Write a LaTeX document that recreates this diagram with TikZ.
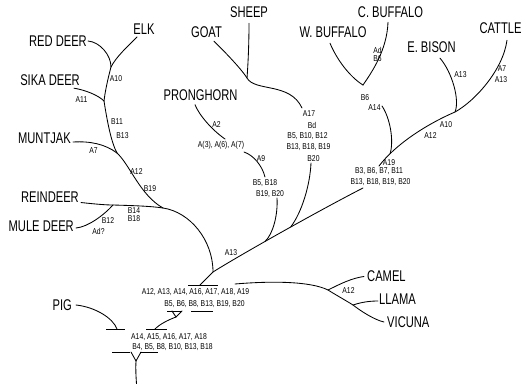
\documentclass[tikz,border=0pt]{standalone}
\usepackage{fontspec}
\newfontfamily\biglbl[FakeStretch=0.72]{Liberation Sans}
\newfontfamily\smllbl[FakeStretch=0.8]{Liberation Sans}
\usetikzlibrary{calc}
\tikzset{
  taxon/.style={inner sep=0pt, font=\biglbl\fontsize{15.5}{16}\selectfont},
  charlbl/.style={inner sep=0pt, font=\smllbl\fontsize{8.5}{9}\selectfont},
  edgeline/.style={line width=0.85pt, line cap=round},
  tickbar/.style={line width=0.85pt}
}
\begin{document}
\begin{tikzpicture}[x=1pt,y=-1pt]
\path[fill=white] (0,0) rectangle (527,383);
\useasboundingbox (0,0) rectangle (527,383);

% taxa
\node[taxon, anchor=east] (reddeer) at (87,41) {RED DEER};
\node[taxon] (elk) at (144,29) {ELK};
\node[taxon, anchor=east] (sika) at (80,80.5) {SIKA DEER};
\node[taxon, anchor=east] (muntjak) at (71,138.5) {MUNTJAK};
\node[taxon, anchor=east] (reindeer) at (79,197) {REINDEER};
\node[taxon, anchor=east] (muledeer) at (74,226.5) {MULE DEER};
\node[taxon, anchor=east] (pig) at (72,305) {PIG};
\node[taxon] (pronghorn) at (200.5,95) {PRONGHORN};
\node[taxon] (goat) at (206.5,32.5) {GOAT};
\node[taxon] (sheep) at (249,12.5) {SHEEP};
\node[taxon] (wbuf) at (333,32.5) {W. BUFFALO};
\node[taxon] (cbuf) at (390.5,12.5) {C. BUFFALO};
\node[taxon] (ebison) at (431.5,47.5) {E. BISON};
\node[taxon] (cattle) at (500.5,28.5) {CATTLE};
\node[taxon, anchor=west] (camel) at (367,276.5) {CAMEL};
\node[taxon, anchor=west] (llama) at (379,299) {LLAMA};
\node[taxon, anchor=west] (vicuna) at (387,322) {VICUNA};

% character labels
\node[charlbl] (l1) at (116,79) {A10};
\node[charlbl] (l2) at (81.5,100) {A11};
\node[charlbl] (l3) at (117,122) {B11};
\node[charlbl] (l4) at (122.5,135.5) {B13};
\node[charlbl] (l5) at (93.5,150.5) {A7};
\node[charlbl] (l6) at (136.5,172) {A12};
\node[charlbl] (l7) at (150,188.5) {B19};
\node[charlbl] (l8) at (134,210.8) {B14};
\node[charlbl] (l9) at (134,218.2) {B18};
\node[charlbl] (l10) at (108,221) {B12};
\node[charlbl] (l11) at (98.5,231) {Ad?};
\node[charlbl] (l12) at (216.5,125) {A2};
\node[charlbl] (l13) at (221,145.5) {A(3), A(6), A(7)};
\node[charlbl] (l14) at (261,158.5) {A9};
\node[charlbl] (l15) at (265,183.5) {B5, B18};
\node[charlbl] (l16) at (270,194) {B19, B20};
\node[charlbl] (l17) at (309,113.5) {A17};
\node[charlbl] (l18) at (312,125.5) {Bd};
\node[charlbl] (l19) at (307.5,136.5) {B5, B10, B12};
\node[charlbl] (l20) at (308.5,147.5) {B13, B18, B19};
\node[charlbl] (l21) at (313.5,159) {B20};
\node[charlbl] (l22) at (377.5,50) {Ad};
\node[charlbl] (l23) at (377.5,58.5) {B6};
\node[charlbl] (l24) at (365,98) {B6};
\node[charlbl] (l25) at (374.5,108) {A14};
\node[charlbl] (l26) at (460.5,75) {A13};
\node[charlbl] (l27) at (502,69) {A7};
\node[charlbl] (l28) at (501,80) {A13};
\node[charlbl] (l29) at (446,125) {A10};
\node[charlbl] (l30) at (430.5,136) {A12};
\node[charlbl] (l31) at (389,162.5) {A19};
\node[charlbl] (l32) at (379,171.5) {B3, B6, B7, B11};
\node[charlbl] (l33) at (380.5,182.5) {B13, B18, B19, B20};
\node[charlbl] (l34) at (231,252.5) {A13};
\node[charlbl] (l35) at (195.5,292.5) {A12, A13, A14, A16, A17, A18, A19};
\node[charlbl] (l36) at (204.5,304.5) {B5, B6, B8, B13, B19, B20};
\node[charlbl] (l37) at (348.5,291) {A12};
\node[charlbl] (l38) at (169,337.5) {A14, A15, A16, A17, A18};
\node[charlbl] (l39) at (172.5,347.5) {B4, B5, B8, B10, B13, B18};

% junctions
\coordinate (cd1) at (111,67);
\coordinate (cd2) at (104,101);
\coordinate (cd3) at (117,153);
\coordinate (cd5) at (113,205);
\coordinate (cd4) at (163,208);
\coordinate (cr) at (213,272);
\coordinate (rb) at (200,285);
\coordinate (gs) at (247,78);
\coordinate (goatend) at (302,108);
\coordinate (goatlow) at (311,163);
\coordinate (pr1) at (225,139);
\coordinate (pr2) at (244,152);
\coordinate (pr3) at (265,177);
\coordinate (pr4) at (277,198);
\coordinate (bj) at (363,85);
\coordinate (bf2) at (382,106);
\coordinate (bovend) at (363,188);
\coordinate (bt) at (379,166);
\coordinate (be) at (455,112);
\coordinate (cs) at (235,284);
\coordinate (cj1) at (328,290);
\coordinate (cj2) at (353,305);
\coordinate (midv) at (176,317);
\coordinate (mr) at (155,329);
\coordinate (pl) at (117,329);
\coordinate (rootv) at (136,361);
\coordinate (rootend) at (136.5,384);

% cervids
\draw[edgeline] ($(reddeer.east)+(1,0)$) .. controls (100,42) and (111,55) .. (cd1);
\draw[edgeline] ($(elk.south)+(-7,2.5)$) .. controls (128,46) and (116,57) .. (cd1);
\draw[edgeline] (cd1) .. controls (108,78) and (105,92) .. (cd2);
\draw[edgeline] ($(sika.south east)+(-6,2)$) .. controls (85,90) and (98,95) .. (cd2);
\draw[edgeline] (cd2) .. controls (107,120) and (111,142) .. (cd3);
\draw[edgeline] ($(muntjak.east)+(2,3.5)$) .. controls (90,141) and (105,144) .. (cd3);
\draw[edgeline] (cd3) .. controls (130,165) and (140,195) .. (cd4);
\draw[edgeline] ($(reindeer.south east)+(2,0)$) .. controls (95,204) and (105,205) .. (cd5)
   .. controls (130,205.5) and (150,206) .. (cd4) .. controls (190,212) and (213,240) .. (cr);
\draw[edgeline] ($(muledeer.east)+(2,1.5)$) .. controls (88,227) and (104,215) .. (cd5);

% ruminant stem
\draw[edgeline] (rb) -- (cr) .. controls (240,255) and (320,210) .. (bovend)
   coordinate[pos=0.4] (pj) coordinate[pos=0.55] (gj);

% goat / sheep
\draw[edgeline] ($(goat.south)+(7.5,3)$) .. controls (228,55) and (242,70) .. (gs)
   .. controls (255,92) and (290,82) .. (goatend);
\draw[edgeline] ($(sheep.south)+(0,5)$) .. controls (249,45) and (248,65) .. (gs);
\draw[edgeline] (goatlow) .. controls (310,185) and (302,212) .. (gj);

% pronghorn
\draw[edgeline] ($(pronghorn.south)+(-5.5,4)$) .. controls (199,115) and (212,130) .. (pr1);
\draw[edgeline] (pr2) .. controls (253,155) and (262,165) .. (pr3);
\draw[edgeline] (pr4) .. controls (278,215) and (273,234) .. (pj);

% bovines
\draw[edgeline] (bt) .. controls (395,145) and (425,125) .. (be) coordinate[pos=0.2] (bc)
   .. controls (475,101) and (503,70) .. ($(cattle.south)+(6.5,6)$);
\draw[edgeline] ($(ebison.south)+(8.5,5)$) .. controls (452,72) and (460,100) .. (be);
\draw[edgeline] ($(wbuf.south)+(-3,5)$) .. controls (337,60) and (350,77) .. (bj);
\draw[edgeline] ($(cbuf.south)+(-2.5,4)$) .. controls (387,50) and (372,72) .. (bj);
\draw[edgeline] (bf2) .. controls (390,118) and (394,140) .. (bc);

% camelids
\draw[edgeline] (cs) .. controls (270,281) and (310,281) .. (cj1)
   .. controls (336,295) and (345,300) .. (cj2)
   .. controls (362,312) and (375,320) .. ($(vicuna.west)+(-3,0)$);
\draw[edgeline] (cj1) .. controls (340,284) and (352,278) .. ($(camel.west)+(-3,0)$);
\draw[edgeline] (cj2) .. controls (362,302) and (370,301) .. ($(llama.west)+(-1,2)$);

% basal nodes
\draw[tickbar] (188,285) -- (218,285);
\draw[tickbar] (167,311) -- (182,311);
\draw[tickbar] (191,311) -- (213,311);
\draw[edgeline] (172,311) -- (midv) -- (182,311);
\draw[edgeline] (midv) .. controls (168,320) and (160,324) .. (mr);
\draw[tickbar] (106,329) -- (125,329);
\draw[tickbar] (146,329) -- (167,329);
\draw[edgeline] ($(pig.east)+(4,0)$) .. controls (95,307) and (113,318) .. (pl);
\draw[tickbar] (112,352) -- (130,352);
\draw[tickbar] (140,352) -- (158,352);
\draw[edgeline] (131,352) -- (rootv) -- (141,352);
\draw[edgeline] (rootv) .. controls (135.5,370) and (136,376) .. (rootend);
\end{tikzpicture}
\end{document}
